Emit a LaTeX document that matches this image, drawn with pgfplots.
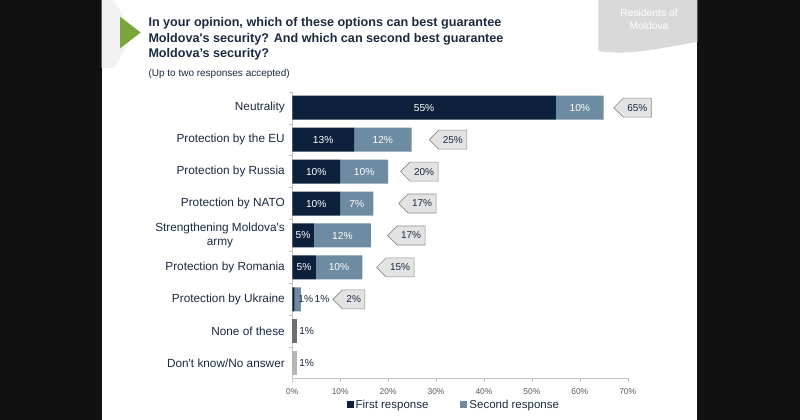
\documentclass[border=0pt]{standalone}
\usepackage{pgfplots}
\usepackage{pgfplotstable}
\pgfplotsset{compat=1.18}
\usepackage{fontspec}
\setmainfont{Liberation Sans}
\usetikzlibrary{shapes.symbols}
\definecolor{navy}{HTML}{0D213C}
\definecolor{steel}{HTML}{6D8BA1}
\definecolor{nonec}{HTML}{6F6F6F}
\definecolor{dkc}{HTML}{B5B5B5}
\definecolor{txt}{HTML}{1B2A40}
\definecolor{axc}{HTML}{C4C4C4}
\definecolor{tickc}{HTML}{595959}
\definecolor{calfill}{HTML}{E3E3E3}
\definecolor{caldraw}{HTML}{8C8C8C}
\definecolor{arrowgreen}{HTML}{7AA53A}
\definecolor{bannerc}{HTML}{D9D9D9}
\definecolor{chev}{HTML}{F2F2F2}
\definecolor{bg}{HTML}{111111}

\pgfplotstableread{
row first flab second slab none dk
8 55.0 55\% 10.0 10\% 0 0
7 12.9 13\% 12.0 12\% 0 0
6 10.0 10\% 10.0 10\% 0 0
5 10.0 10\% 6.9 7\% 0 0
4 4.5 5\% 11.9 12\% 0 0
3 4.9 5\% 9.7 10\% 0 0
2 0.5 {} 1.3 {} 0 0
1 0 {} 0 {} 0.9 0
0 0 {} 0 {} 0 0.9
}\bars

\pgfplotstableread{
x y lab
67.0 8 65\%
28.5 7 25\%
22.5 6 20\%
22.1 5 17\%
19.8 4 17\%
17.5 3 15\%
8.4 2 2\%
}\totals

\pgfplotstableread{
x y lab
2.82 2 1\%
6.2 2 1\%
3.0 1 1\%
3.0 0 1\%
}\outside

\begin{document}
\begin{tikzpicture}[x=1pt,y=1pt]
\fill[bg] (0,0) rectangle (800,420);
\fill[white] (101.7,0) rectangle (697.3,420);
\path[use as bounding box] (0,0) rectangle (800,420);
% decorative chevron and arrow
\fill[chev] (101.7,420) -- (114,420) -- (134,386) -- (114,352) -- (101.7,352) -- cycle;
\fill[arrowgreen] (120,403.3) -- (120,371.7) -- (140.7,387.5) -- cycle;
% banner
\fill[bannerc] (598.3,420) -- (697.3,420) -- (697.3,378) .. controls (660,372) and (630,364) .. (598.3,369) -- cycle;
\node[text=white, font=\fontsize{10.3}{12}\selectfont, anchor=base] at (649,403.5) {Residents of};
\node[text=white, font=\fontsize{10.3}{12}\selectfont, anchor=base] at (649,390.5) {Moldova};
% title
\node[anchor=base west, inner sep=0, text=txt, font=\fontsize{12.6}{16}\bfseries] at (148.3,393.8) {In your opinion, which of these options can best guarantee};
\node[anchor=base west, inner sep=0, text=txt, font=\fontsize{12.6}{16}\bfseries] at (148.3,377.8) {Moldova\textquotesingle s security? And which can second best guarantee};
\node[anchor=base west, inner sep=0, text=txt, font=\fontsize{12.6}{16}\bfseries] at (148.3,362.0) {Moldova’s security?};
\node[anchor=base west, inner sep=0, text=txt, font=\fontsize{10}{12}\selectfont] at (148.3,343.0) {(Up to two responses accepted)};

\begin{axis}[
  at={(292.3pt,42pt)}, anchor=south west,
  scale only axis, width=335.4pt, height=286.3pt,
  xbar stacked, bar width=24pt,
  xmin=0, xmax=70, ymin=-0.46, ymax=8.5,
  clip=false,
  axis x line*=bottom, axis y line*=left,
  axis line style={axc, line width=0.8pt},
  xtick={0,10,...,70},
  xticklabel={\pgfmathprintnumber{\tick}\%},
  /pgf/number format/assume math mode=true,
  xticklabel style={font=\fontsize{8.4}{10}\selectfont, text=tickc, yshift=-3pt},
  ytick={0,...,8},
  yticklabels={Don\textquotesingle t know/No answer, None of these, Protection by Ukraine, Protection by Romania, {Strengthening Moldova\textquotesingle s\\army}, Protection by NATO, Protection by Russia, Protection by the EU, Neutrality},
  yticklabel style={font=\fontsize{11.8}{14}\selectfont, text=txt, align=center},
  minor ytick={0.5,1.5,2.5,3.5,4.5,5.5,6.5,7.5,8.5},
  major y tick style={draw=none},
  minor y tick style={axc},
  x tick style={axc},
  tick align=outside,
  major tick length=4pt, minor tick length=3pt,
  legend style={at={(0.4815,-0.094)}, anchor=center, draw=none, fill=none,
    legend columns=2, font=\fontsize{11.5}{13}\selectfont, text=txt,
    /tikz/every even column/.append style={column sep=30pt}},
  legend image code/.code={\fill[#1] (0pt,-3.5pt) rectangle (7pt,3.5pt);},
]
\addplot[fill=navy, draw=none, nodes near coords, point meta=explicit symbolic,
  every node near coord/.append style={anchor=center, text=white, font=\fontsize{10.2}{12}\selectfont}]
  table[x=first, y=row, meta=flab] {\bars};
\addlegendentry{First response}
\addplot[fill=steel, draw=none, nodes near coords, point meta=explicit symbolic,
  every node near coord/.append style={anchor=center, text=white, font=\fontsize{10.2}{12}\selectfont}]
  table[x=second, y=row, meta=slab] {\bars};
\addlegendentry{Second response}
\addplot[fill=nonec, draw=none, forget plot] table[x=none, y=row] {\bars};
\addplot[fill=dkc, draw=none, forget plot] table[x=dk, y=row] {\bars};
\end{axis}

\begin{axis}[
  at={(292.3pt,42pt)}, anchor=south west,
  scale only axis, width=335.4pt, height=286.3pt,
  xmin=0, xmax=70, ymin=-0.46, ymax=8.5,
  hide axis, clip=false,
]
\addplot[draw=none, mark=none, nodes near coords, point meta=explicit symbolic,
  every node near coord/.append style={signal, signal to=west, draw=caldraw, fill=calfill, line width=0.6pt, anchor=west, text=txt, font=\fontsize{10}{11}\selectfont, minimum height=19pt, inner xsep=4pt}]
  table[x=x, y=y, meta=lab] {\totals};
\addplot[draw=none, mark=none, nodes near coords, point meta=explicit symbolic,
  every node near coord/.append style={anchor=center, text=txt, font=\fontsize{10.2}{12}\selectfont}]
  table[x=x, y=y, meta=lab] {\outside};
\end{axis}
\end{tikzpicture}
\end{document}
